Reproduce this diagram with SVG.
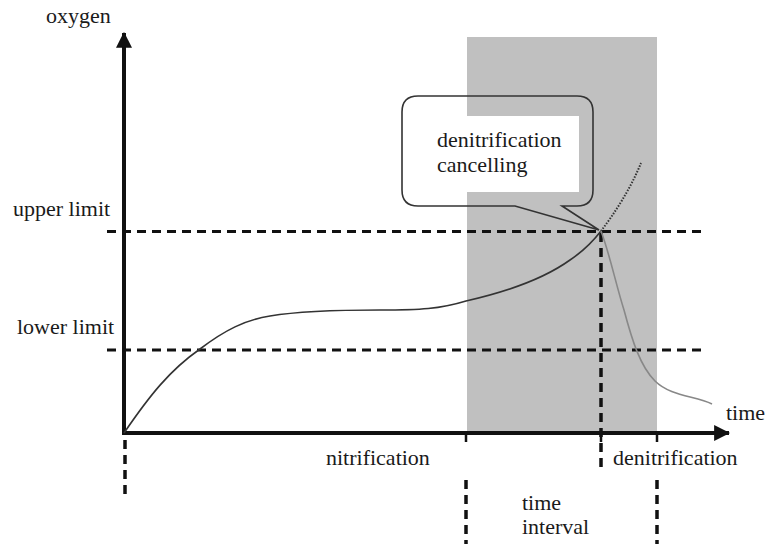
<svg xmlns="http://www.w3.org/2000/svg" width="768" height="544" viewBox="0 0 768 544">
<style>
text{font-family:"Liberation Serif","Times New Roman",serif;font-size:22px;fill:#1a1a1a}
.axis{stroke:#111;stroke-width:4;fill:none}
.hdash{stroke:#111;stroke-width:3;stroke-dasharray:9 6;fill:none}
.vdash{stroke:#111;stroke-width:3.5;stroke-dasharray:9 6;fill:none}
.tick{stroke:#111;stroke-width:2.5}
.curve{stroke:#333;stroke-width:1.6;fill:none}
</style>
<defs>
<marker id="arr" markerUnits="userSpaceOnUse" markerWidth="16" markerHeight="16" refX="13" refY="7" orient="auto" viewBox="0 0 14 14">
<path d="M0,0 L14,7 L0,14 Z" fill="#111"/>
</marker>
</defs>
<rect width="768" height="544" fill="#fff"/>
<g id="interval-band">
<rect x="467" y="37" width="190" height="396" fill="#c0c0c0"/>
</g>
<g id="axes">
<line class="axis" x1="124" y1="435" x2="124" y2="33" marker-end="url(#arr)"/>
<line class="axis" x1="122" y1="433" x2="729" y2="433" marker-end="url(#arr)"/>
<line class="tick" x1="466" y1="431" x2="466" y2="442"/>
<line class="tick" x1="601" y1="431" x2="601" y2="442"/>
<line class="tick" x1="657" y1="431" x2="657" y2="442"/>
</g>
<g id="connectors">
<line class="hdash" x1="107" y1="231.5" x2="702" y2="231.5"/>
<line class="hdash" x1="107" y1="350" x2="702" y2="350"/>
<line class="vdash" x1="601" y1="233" x2="601" y2="472"/>
<line class="vdash" x1="125" y1="440" x2="125" y2="494"/>
<line class="vdash" x1="466" y1="480" x2="466" y2="544"/>
<line class="vdash" x1="657" y1="480" x2="657" y2="544"/>
</g>
<g id="curves">
<path class="curve" d="M124,433 C150,395 170,370 200,349 C225,330 245,320 270,316 C300,311 340,310 380,310 C420,310 440,309 466,301 C510,291 545,278 570,260 C585,250 594,240 601,231"/>
<path d="M601,231 C614,214 630,190 641,163" stroke="#333" stroke-width="2" stroke-dasharray="1.5 1.5" fill="none"/>
<path d="M601,231 C610,255 616,285 624,310 C632,340 640,366 655,381 C670,396 695,396 712,404" stroke="#888" stroke-width="1.6" fill="none"/>
</g>
<g id="callout">
<rect x="430" y="116" width="149" height="76" fill="#fff"/>
<path d="M418,96 H577 Q593,96 593,112 V190 Q593,206 577,206 H562 L599,230 L515,206 H418 Q402,206 402,190 V112 Q402,96 418,96 Z" fill="none" stroke="#333" stroke-width="1.6"/>
<text x="437" y="147">denitrification</text>
<text x="437" y="172">cancelling</text>
</g>
<g id="labels">
<text x="46" y="23">oxygen</text>
<text x="13" y="216">upper limit</text>
<text x="17" y="334">lower limit</text>
<text x="726" y="420">time</text>
<text x="326" y="465">nitrification</text>
<text x="613" y="465">denitrification</text>
<text x="522" y="510">time</text>
<text x="522" y="534">interval</text>
</g>
</svg>
